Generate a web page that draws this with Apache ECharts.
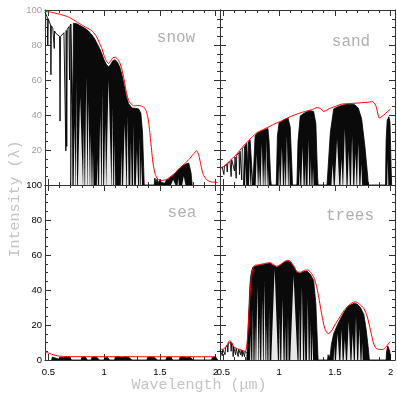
<!DOCTYPE html>
<html>
<head>
<meta charset="utf-8">
<script src="https://cdn.jsdelivr.net/npm/echarts@6/dist/echarts.min.js"></script>
<style>
html, body { margin: 0; padding: 0; background: #fff; }
#chart { width: 397px; height: 395px; }
</style>
</head>
<body>
<div id="chart"></div>
<script>
// tick values on the wavelength axis
const xMajor = [0.5, 1, 1.5, 2]
const xMinor = [0.6, 0.7, 0.8, 0.9, 1.1, 1.2, 1.3, 1.4, 1.6, 1.7, 1.8, 1.9]
const panelNames = ['snow', 'sand', 'sea', 'trees']

// snow: red = surface reflectance, black = spectrum seen through the air
const snowRed = [[0.47,99.2],[0.52,98.8],[0.56,98.2],[0.60,97.6],[0.64,96.9],[0.68,96],[0.72,94.6],[0.76,93],[0.80,91.5],[0.84,90],[0.87,89],[0.90,87.5],[0.93,85],[0.96,81],[0.98,78],[1.00,74],[1.02,71],[1.04,69.5],[1.06,71],[1.08,72.8],[1.10,73],[1.12,72],[1.14,70],[1.16,66],[1.18,60],[1.20,53],[1.22,48.5],[1.24,46.5],[1.27,45.2],[1.30,45.4],[1.33,45.2],[1.36,44.3],[1.38,42],[1.40,36],[1.42,24],[1.44,12],[1.46,6],[1.48,3.5],[1.52,2.6],[1.56,3.2],[1.60,5],[1.64,7],[1.68,9.5],[1.72,12],[1.76,14.5],[1.80,17.5],[1.83,19.6],[1.85,17],[1.87,11],[1.89,6],[1.92,3],[1.96,1.8],[2.02,1.5]]
const snowLines = [[0.47,98.6],[0.48,97.5],[0.49,96],[0.495,80],[0.50,95],[0.51,93],[0.52,91.5],[0.523,63],[0.527,91],[0.54,89.5],[0.55,88.5],[0.553,78],[0.556,88],[0.57,86.5],[0.585,85.5],[0.60,85],[0.605,36.5],[0.61,85],[0.625,85.8],[0.64,87],[0.655,88],[0.657,19.5],[0.66,88.3],[0.665,22],[0.67,89],[0.685,90.5],[0.69,60],[0.695,91],[0.70,92]]
const snowBlack = [[0.70,0],[0.702,92],[0.715,92.6],[0.72,40],[0.725,92.5],[0.74,92.4],[0.76,92],[0.78,91.3],[0.80,90.6],[0.82,89.8],[0.84,89],[0.86,88],[0.88,86.5],[0.90,85],[0.92,83],[0.94,80.5],[0.96,78],[0.98,75],[1.00,71.5],[1.02,69],[1.04,67.5],[1.06,69],[1.08,71.2],[1.10,71.5],[1.12,70.2],[1.14,67.5],[1.16,63],[1.18,57],[1.20,50.5],[1.22,46.5],[1.25,44],[1.28,43.8],[1.31,43.5],[1.33,41],[1.345,30],[1.355,10],[1.36,0],[1.45,0],[1.455,4],[1.465,1],[1.475,3.5],[1.485,1.2],[1.50,3],[1.515,1.5],[1.53,2.6],[1.545,1],[1.56,3],[1.58,3.5],[1.60,4.5],[1.62,5.5],[1.64,7],[1.66,8.5],[1.68,9.8],[1.70,10.8],[1.72,11.6],[1.74,12.2],[1.76,12.5],[1.77,11.5],[1.78,7],[1.79,0]]
// white gaps inside the black: [left, apex, right, apex height]
const snowGaps = [[0.705,0.71,0.716,55],[0.727,0.735,0.745,35],[0.748,0.753,0.758,60],[0.765,0.785,0.81,50],[0.812,0.818,0.825,35],[0.83,0.84,0.85,62],[0.852,0.86,0.872,48],[0.875,0.88,0.888,30],[0.895,0.9,0.905,20],[0.935,0.94,0.945,15],[0.955,0.965,0.975,40],[0.98,0.985,0.992,55],[1.00,1.01,1.018,35],[1.02,1.04,1.065,60],[1.068,1.075,1.082,45],[1.09,1.095,1.1,25],[1.15,1.155,1.16,20],[1.17,1.185,1.2,35],[1.205,1.21,1.22,40],[1.235,1.24,1.248,25],[1.26,1.265,1.27,35],[1.285,1.295,1.305,20],[1.315,1.32,1.325,28],[1.33,1.335,1.34,15],[1.60,1.62,1.64,3],[1.66,1.665,1.67,4],[1.70,1.715,1.73,5]]

// sand
const sandRed = [[0.47,9.5],[0.50,10.5],[0.53,12],[0.56,14],[0.60,16.3],[0.64,19.2],[0.68,22.3],[0.72,25],[0.76,27.5],[0.80,29.8],[0.85,31.5],[0.90,33],[0.95,34.6],[1.00,36],[1.05,37.5],[1.10,39],[1.15,40.3],[1.20,41.4],[1.25,42.3],[1.30,43.2],[1.34,44.2],[1.37,43.8],[1.40,42],[1.42,42.5],[1.45,43.6],[1.50,44.8],[1.56,46.2],[1.62,46.5],[1.70,46.8],[1.78,47.2],[1.84,47.6],[1.87,45],[1.90,38.2],[1.94,40],[1.97,41.8],[2.0,43.3]]
const sandLines = [[0.47,9.3],[0.49,10.2],[0.50,10.5],[0.505,6],[0.51,10.8],[0.53,11.8],[0.535,7.5],[0.54,12.2],[0.56,13.5],[0.57,4.8],[0.575,14.5],[0.59,15.5],[0.60,8],[0.605,16],[0.615,3.8],[0.62,17],[0.64,18.5],[0.645,6],[0.65,19.3],[0.665,2.9],[0.67,20.7],[0.68,21.5]]
const sandBlack = [[0.68,0],[0.69,22],[0.70,23],[0.71,23.8],[0.72,8],[0.725,24.5],[0.74,25.8],[0.755,26.5],[0.76,5],[0.765,0],[0.775,0],[0.785,28],[0.80,29.5],[0.82,30.2],[0.84,30.8],[0.86,31.3],[0.88,31.8],[0.90,32.3],[0.91,25],[0.925,3],[0.93,0],[0.975,0],[0.985,28],[1.00,35.5],[1.02,36.2],[1.04,37],[1.06,37.8],[1.08,38.3],[1.10,33],[1.115,10],[1.12,0],[1.16,0],[1.17,25],[1.19,39.5],[1.22,40.8],[1.25,41.8],[1.28,42.5],[1.31,42],[1.33,35],[1.345,5],[1.35,0],[1.43,0],[1.46,30],[1.49,43.5],[1.52,44.5],[1.56,45.5],[1.60,46],[1.64,46.2],[1.68,45.8],[1.71,44],[1.74,38],[1.77,22],[1.795,5],[1.80,0],[1.955,0],[1.96,25],[1.97,37],[1.985,39],[1.995,36],[2.005,10],[2.01,0]]
const sandGaps = [[0.695,0.70,0.705,12],[0.73,0.735,0.74,15],[0.745,0.75,0.755,8],[0.79,0.80,0.81,18],[0.815,0.82,0.828,10],[0.835,0.845,0.855,24],[0.86,0.866,0.872,15],[0.878,0.885,0.892,26],[0.895,0.9,0.905,10],[0.995,1.0,1.006,12],[1.015,1.025,1.035,22],[1.045,1.05,1.056,14],[1.062,1.07,1.08,28],[1.085,1.09,1.095,15],[1.18,1.185,1.19,10],[1.2,1.21,1.22,22],[1.23,1.235,1.24,12],[1.255,1.262,1.27,26],[1.28,1.285,1.29,15],[1.30,1.305,1.31,10],[1.47,1.48,1.49,12],[1.50,1.52,1.54,26],[1.55,1.56,1.57,15],[1.575,1.59,1.605,32],[1.615,1.625,1.635,20],[1.645,1.655,1.665,28],[1.675,1.685,1.695,18],[1.70,1.71,1.72,24],[1.73,1.738,1.745,12],[1.97,1.975,1.98,15]]

// sea
const seaRed = [[0.47,4.7],[0.50,4],[0.53,3.3],[0.56,2.7],[0.60,2.2],[0.65,2],[0.75,1.9],[2.0,1.85]]
const seaLines = []
const seaBlack = [[0.53,0],[0.535,1.6],[0.56,1.2],[0.575,1.7],[0.59,0.6],[0.61,1.6],[0.64,1.3],[0.66,1.7],[0.69,1.4],[0.71,0],[0.795,0],[0.80,1.6],[0.83,1.8],[0.85,0],[0.885,0],[0.89,1.5],[0.92,1.8],[0.94,1.2],[0.96,0],[1.0,0],[1.005,1.2],[1.03,1.5],[1.05,0],[1.095,0],[1.10,1.6],[1.13,1.8],[1.16,1.4],[1.19,1.8],[1.22,1.6],[1.25,0],[1.385,0],[1.39,1.4],[1.42,1.7],[1.45,1.5],[1.48,0],[1.555,0],[1.56,1.5],[1.59,1.7],[1.62,0],[1.675,0],[1.68,1.5],[1.71,1.7],[1.74,1.3],[1.77,1.7],[1.80,0],[1.965,0],[1.97,1.5],[2.0,1.8],[2.02,0]]
const seaGaps = []

// trees
const treesRed = [[0.47,6],[0.50,6.3],[0.53,8],[0.555,11],[0.57,10.5],[0.59,7.8],[0.62,6.6],[0.66,5.8],[0.69,5.0],[0.705,6],[0.72,15],[0.735,33],[0.75,46],[0.765,52],[0.78,54],[0.83,54.5],[0.88,55.3],[0.92,55.6],[0.95,54.5],[0.98,53.6],[1.01,54.5],[1.05,56.3],[1.08,57],[1.10,56.5],[1.13,54],[1.15,51.5],[1.17,50.2],[1.20,50.3],[1.23,51.3],[1.26,51.4],[1.29,49.5],[1.32,46],[1.35,38],[1.38,27],[1.41,18],[1.44,15],[1.47,16.5],[1.50,20],[1.54,24],[1.58,28],[1.62,31],[1.66,32.8],[1.69,33.2],[1.72,32],[1.76,29.5],[1.79,25],[1.82,17],[1.85,9],[1.87,6.7],[1.90,6],[1.93,6],[1.96,7.5],[1.995,10.5]]
const treesLines = [[0.47,5.8],[0.485,6],[0.49,2.5],[0.495,6.1],[0.51,6.6],[0.515,3],[0.52,7],[0.535,8.6],[0.54,4.5],[0.545,9.4],[0.555,10.4],[0.565,10.2],[0.57,5],[0.575,9.8],[0.585,8.3],[0.588,1.9],[0.592,7.8],[0.605,6.9],[0.61,3],[0.615,6.7],[0.63,6.3],[0.633,2],[0.637,6.2],[0.65,5.9],[0.655,3],[0.66,5.7],[0.667,5.5],[0.67,2],[0.674,5.4],[0.685,5.1],[0.69,1.9],[0.695,5],[0.705,5.5],[0.71,4]]
const treesBlack = [[0.71,0],[0.716,9],[0.722,18],[0.73,30],[0.738,42],[0.746,48],[0.755,51],[0.765,53],[0.78,53.5],[0.80,53.8],[0.83,54.2],[0.86,54.6],[0.89,55],[0.92,55.2],[0.95,54],[0.98,53],[1.01,54],[1.04,55.6],[1.07,56.5],[1.10,56],[1.13,53.5],[1.16,50],[1.19,49.6],[1.22,50.5],[1.25,50.8],[1.28,49],[1.31,45.5],[1.33,32],[1.345,8],[1.35,0],[1.435,0],[1.44,3],[1.45,1],[1.46,3.5],[1.47,9],[1.49,15],[1.52,19.5],[1.55,23.5],[1.58,27],[1.61,29.8],[1.64,31.5],[1.67,32.3],[1.70,32],[1.73,30],[1.76,26],[1.78,18],[1.80,7],[1.81,0],[1.96,0],[1.965,5],[1.975,8],[1.985,8.6],[1.993,5],[2.0,0]]
const treesGaps = [[0.74,0.745,0.75,15],[0.76,0.765,0.77,30],[0.78,0.785,0.79,20],[0.795,0.805,0.815,42],[0.82,0.825,0.83,25],[0.84,0.848,0.856,35],[0.862,0.87,0.878,45],[0.885,0.89,0.895,20],[0.905,0.91,0.915,30],[0.93,0.96,0.99,52],[1.00,1.005,1.01,25],[1.02,1.03,1.04,35],[1.05,1.055,1.06,20],[1.075,1.08,1.085,25],[1.10,1.13,1.165,48],[1.175,1.18,1.185,30],[1.195,1.205,1.215,42],[1.225,1.23,1.235,20],[1.25,1.258,1.265,35],[1.275,1.28,1.285,22],[1.295,1.3,1.305,15],[1.49,1.495,1.50,8],[1.51,1.525,1.54,15],[1.55,1.56,1.57,18],[1.58,1.59,1.60,12],[1.61,1.625,1.64,22],[1.65,1.66,1.67,15],[1.68,1.69,1.70,25],[1.71,1.72,1.73,18],[1.74,1.745,1.75,10]]

const panels = [
    {red: snowRed, black: snowBlack, lines: snowLines, gaps: snowGaps},
    {red: sandRed, black: sandBlack, lines: sandLines, gaps: sandGaps},
    {red: seaRed, black: seaBlack, lines: seaLines, gaps: seaGaps},
    {red: treesRed, black: treesBlack, lines: treesLines, gaps: treesGaps}
]

const frameColor = '#333'
const labelFont = 'Liberation Sans, Arial, sans-serif'
const titleFont = '"Liberation Mono", "DejaVu Sans Mono", monospace'

const grids = [
    {left: 45, top: 10, width: 175, height: 175},
    {left: 220, top: 10, width: 175, height: 175},
    {left: 45, top: 185, width: 175, height: 175},
    {left: 220, top: 185, width: 175, height: 175}
]

const xAxes = []
const yAxes = []
const series = []

const xAxisFor = (g, pos, ticks, len, withLabels, withLine) => ({
    gridIndex: g, type: 'value', min: 0.47, max: 2.04, position: pos,
    axisLine: {show: withLine, onZero: false, lineStyle: {color: frameColor, width: 1}},
    axisTick: {show: true, inside: true, length: len, customValues: ticks, lineStyle: {color: frameColor}},
    axisLabel: {show: withLabels, customValues: xMajor, margin: 7, color: '#000', fontSize: 9.5, fontFamily: labelFont,
        formatter: v => String(v)},
    splitLine: {show: false}
})

const yAxisFor = (g, pos, showLabels, labelColor) => ({
    gridIndex: g, type: 'value', min: 0, max: 100, interval: 20, position: pos,
    axisLine: {show: true, onZero: false, lineStyle: {color: frameColor, width: 1}},
    axisTick: {show: true, inside: true, length: 6, lineStyle: {color: frameColor}},
    minorTick: {show: true, splitNumber: 4, length: 3, lineStyle: {color: frameColor}},
    axisLabel: {show: showLabels, margin: 3, color: labelColor, fontSize: 9.5, fontFamily: labelFont,
        showMinLabel: g !== 0},
    splitLine: {show: false},
    minorSplitLine: {show: false}
})

// white wedge cut into the black, drawn through the axis scales
const gapItem = (params, api) => {
    const a = api.coord([api.value(0), 0])
    const b = api.coord([api.value(1), api.value(3)])
    const c = api.coord([api.value(2), 0])
    return {
        type: 'polygon',
        shape: {points: [a, b, c]},
        style: {fill: '#fff', opacity: 0.9}
    }
}

for (let g = 0; g < 4; g++) {
    const bottomRow = g >= 2
    xAxes.push(xAxisFor(g, 'bottom', xMajor, 6, bottomRow, true))
    xAxes.push(xAxisFor(g, 'bottom', xMinor, 3, false, false))
    xAxes.push(xAxisFor(g, 'top', xMajor, 6, false, true))
    xAxes.push(xAxisFor(g, 'top', xMinor, 3, false, false))
    const leftCol = g % 2 === 0
    yAxes.push(yAxisFor(g, 'left', leftCol, g === 0 ? '#a0a0a0' : '#000'))
    yAxes.push(yAxisFor(g, 'right', false, '#000'))

    const p = panels[g]
    const xi = g * 4
    const yi = g * 2
    series.push({
        type: 'line', xAxisIndex: xi, yAxisIndex: yi, data: p.black,
        symbol: 'none', z: 2, silent: true,
        lineStyle: {color: '#000', width: 0.8},
        areaStyle: {color: '#0a0a0a', opacity: 1}
    })
    series.push({
        type: 'custom', xAxisIndex: xi, yAxisIndex: yi, data: p.gaps,
        encode: {x: [0, 1, 2], y: 3}, renderItem: gapItem, z: 3, silent: true
    })
    series.push({
        type: 'line', xAxisIndex: xi, yAxisIndex: yi, data: p.lines,
        symbol: 'none', z: 4, silent: true,
        lineStyle: {color: '#000', width: 0.9}
    })
    series.push({
        type: 'line', xAxisIndex: xi, yAxisIndex: yi, data: p.red,
        symbol: 'none', z: 5, silent: true, smooth: 0.2,
        lineStyle: {color: '#ff0000', width: 1}
    })
}

const labelPos = [[176, 38], [351, 42], [182, 213], [350, 216]]
const graphics = panelNames.map((name, i) => ({
    type: 'text', x: labelPos[i][0], y: labelPos[i][1], z: 10,
    style: {text: name, fill: '#b0b0b0', font: '16px ' + titleFont,
        textAlign: 'center', textVerticalAlign: 'middle'}
}))
graphics.push({
    type: 'text', x: 15, y: 199, rotation: Math.PI / 2, z: 10,
    style: {text: 'Intensity (λ)', fill: '#c4c4c4', font: '15px ' + titleFont,
        textAlign: 'center', textVerticalAlign: 'middle'}
})
graphics.push({
    type: 'text', x: 199, y: 385, z: 10,
    style: {text: 'Wavelength (μm)', fill: '#c4c4c4', font: '15px ' + titleFont,
        textAlign: 'center', textVerticalAlign: 'middle'}
})

const chart = echarts.init(document.getElementById('chart'), null, {renderer: 'canvas'})
chart.setOption({
    animation: false,
    backgroundColor: '#fff',
    grid: grids,
    xAxis: xAxes,
    yAxis: yAxes,
    series: series,
    graphic: graphics
})
</script>
</body>
</html>
